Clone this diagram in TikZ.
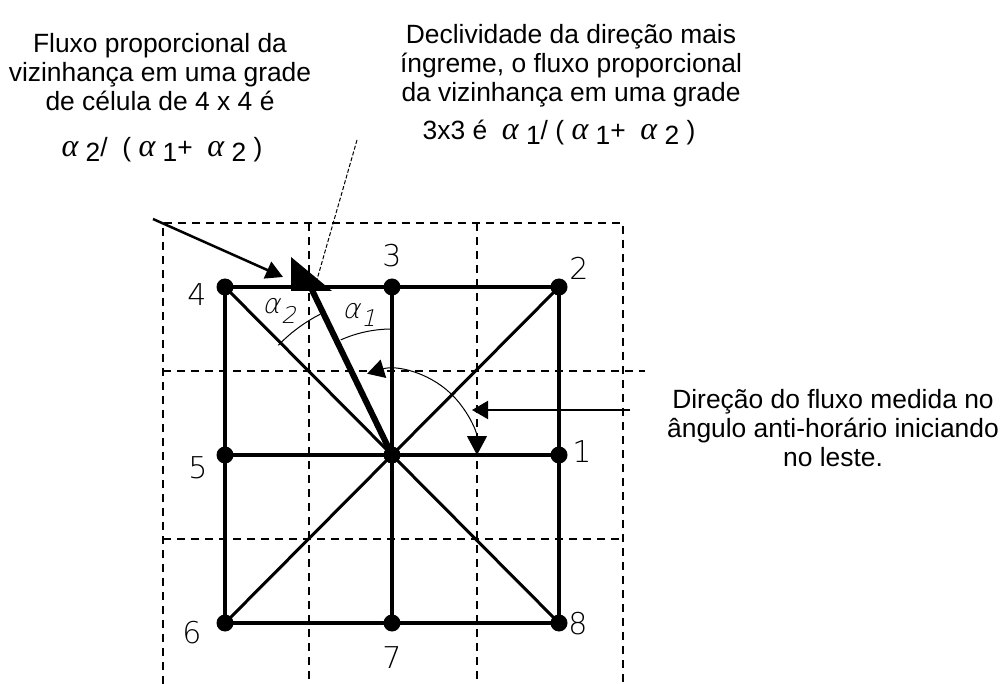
\documentclass[tikz,border=0pt]{standalone}
\usepackage{fontspec}
\setmainfont{Liberation Sans}
\newfontfamily\cadfont{DejaVu Sans ExtraLight}
\newfontfamily\cadslant{DejaVu Sans ExtraLight}[FakeSlant=0.25]
\newfontfamily\grkfont{Liberation Serif}
\usetikzlibrary{arrows.meta}
\newcommand\lowsub[1]{\raisebox{-5pt}{#1}}
\newcommand\alp{{\grkfont\itshape\fontsize{32}{32}\selectfont α}}
\begin{document}
\begin{tikzpicture}[x=1pt,y=-1pt,
  grid/.style={line width=1.4pt, dash pattern=on 8pt off 6pt},
  edge/.style={line width=4pt, line join=round},
  diag/.style={line width=3pt},
  dot/.style={circle, fill=black, inner sep=0pt, minimum size=17pt},
  num/.style={font=\cadfont\fontsize{30}{30}\selectfont, inner sep=0pt},
  alab/.style={font=\cadslant\fontsize{27}{27}\selectfont, inner sep=0pt, anchor=base west},
  txt/.style={font=\fontsize{26.4}{29}\selectfont, align=center, inner sep=0pt},
  thinline/.style={line width=1pt},
  tipped/.style={-{Triangle[length=17pt,width=18pt]}}
]
\useasboundingbox (0,0) rectangle (1004,684);
% dashed grid
\draw[grid] (163,684) -- (163,223) -- (623,223) -- (623,684);
\draw[grid] (309,223) -- (309,684);
\draw[grid] (477,223) -- (477,684);
\draw[grid] (163,371) -- (645,371);
\draw[grid] (163,539) -- (623,539);
% points
\node[dot] (n4) at (225,287) {};
\node[dot] (n3) at (392,287) {};
\node[dot] (n2) at (559,287) {};
\node[dot] (n5) at (225,455) {};
\node[dot] (c)  at (392,455) {};
\node[dot] (n1) at (559,455) {};
\node[dot] (n6) at (225,623) {};
\node[dot] (n7) at (392,623) {};
\node[dot] (n8) at (559,623) {};
% edges
\draw[edge] (n4.center) -- (n3.center) -- (n2.center) -- (n1.center) -- (n8.center)
  -- (n7.center) -- (n6.center) -- (n5.center) -- cycle;
\draw[edge] (n5.center) -- (c.center) -- (n1.center);
\draw[edge] (n3.center) -- (c.center) -- (n7.center);
\draw[diag] (n4.center) -- (n8.center);
\draw[diag] (n2.center) -- (n6.center);
% steepest direction
\coordinate (s) at (312,290);
\draw[line width=6pt] (c.center) -- (s);
\fill (291,257) -- (291,291) -- (332,291) -- cycle;
% angle arcs
\draw[thinline] ([shift={(-90:126)}]c.center) arc[start angle=-90, end angle=-114, radius=126];
\draw[thinline] ([shift={(-117:158)}]c.center) arc[start angle=-117, end angle=-136, radius=158];
\draw[thinline, {Triangle[length=17pt,width=19pt]}-{Triangle[length=19pt,width=20pt]}]
  ([shift={(-107:85)}]c.center) arc[start angle=-107, end angle=0, radius=85];
% pointers
\coordinate (p1a) at (153,219);
\coordinate (p1b) at (283,277);
\draw[line width=2.5pt, tipped] (p1a) -- (p1b);
\coordinate (p2a) at (357,140);
\coordinate (p2b) at (314,290);
\draw[thinline, dash pattern=on 4pt off 2pt] (p2a) -- (p2b);
\coordinate (p3a) at (630,410);
\coordinate (p3b) at (472,410);
\draw[line width=2pt, -{Triangle[length=16pt,width=18pt]}] (p3a) -- (p3b);
% point labels
\node[num] (l4) at (197,295) {4};
\node[num] (l3) at (392,256) {3};
\node[num] (l2) at (579,268) {2};
\node[num] (l1) at (582,452) {1};
\node[num] (l5) at (198,468) {5};
\node[num] (l6) at (192,633) {6};
\node[num] (l7) at (392,658) {7};
\node[num] (l8) at (578,624) {8};
\node[alab] (a2) at (262,314) {α\kern1pt\raisebox{-10pt}{\fontsize{23}{23}\selectfont 2}};
\node[alab] (a1) at (342,319) {α\kern1pt\raisebox{-8pt}{\fontsize{23}{23}\selectfont 1}};
% texts
\node[txt, anchor=north] (tl) at (160,33) {Fluxo proporcional da\\vizinhança em uma grade\\de célula de 4 x 4 é};
\node[txt, anchor=base] (tlf) at (162,157) {{\alp}\ \lowsub{2}/\ \ (\ {\alp}\ \lowsub{1}+\ \ {\alp}\ \lowsub{2}\ )};
\node[txt, anchor=north] (tm) at (571,24) {Declividade da direção mais\\íngreme, o fluxo proporcional\\da vizinhança em uma grade};
\node[txt, anchor=base] (tmf) at (559,140) {3x3 é\ \ {\alp}\ \lowsub{1}/\ (\ {\alp}\ \lowsub{1}+\ \ {\alp}\ \lowsub{2}\ )};
\node[txt, anchor=north] (rt) at (833,389) {Direção do fluxo medida no\\ângulo anti-horário iniciando\\no leste.};
\end{tikzpicture}
\end{document}
